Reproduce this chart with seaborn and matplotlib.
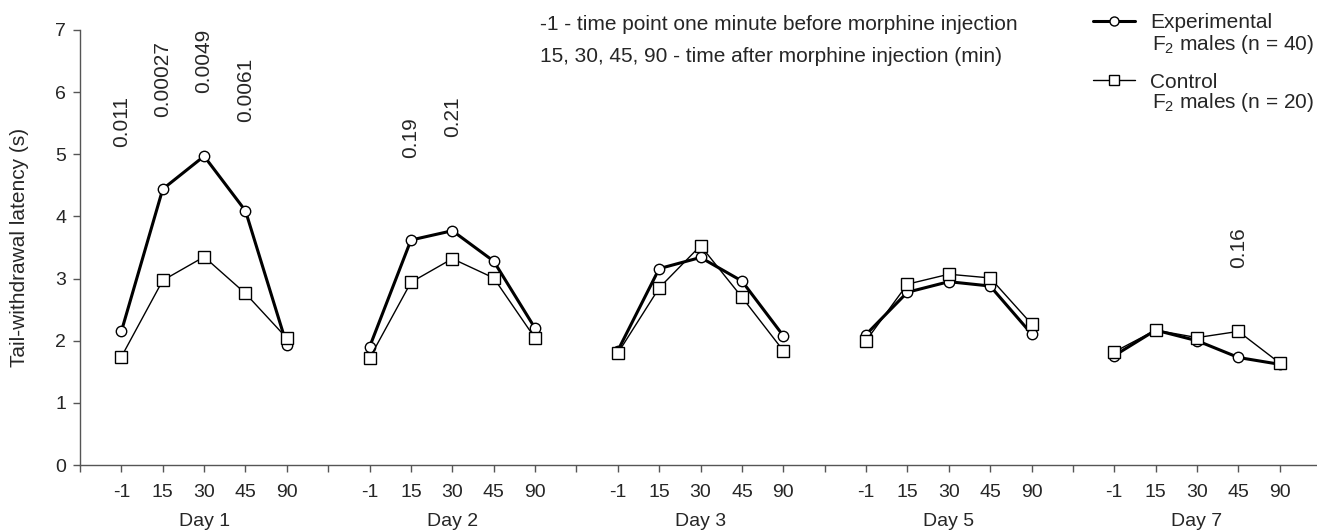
import matplotlib
matplotlib.use("Agg")
import matplotlib.pyplot as plt
import matplotlib.transforms as mtransforms
from matplotlib.lines import Line2D
import seaborn as sns
import pandas as pd

sns.set_theme(style="ticks")
plt.rcParams["font.family"] = ["Liberation Sans", "DejaVu Sans"]
plt.rcParams["mathtext.default"] = "regular"

days = ["Day 1", "Day 2", "Day 3", "Day 5", "Day 7"]
times = ["-1", "15", "30", "45", "90"]

experimental = [
    [2.15, 4.44, 4.97, 4.09, 1.93],
    [1.90, 3.62, 3.77, 3.28, 2.20],
    [1.84, 3.16, 3.34, 2.96, 2.08],
    [2.10, 2.78, 2.95, 2.88, 2.11],
    [1.76, 2.17, 2.00, 1.73, 1.62],
]
control = [
    [1.74, 2.97, 3.35, 2.76, 2.04],
    [1.72, 2.94, 3.32, 3.01, 2.04],
    [1.80, 2.85, 3.53, 2.70, 1.84],
    [2.00, 2.91, 3.07, 3.01, 2.27],
    [1.82, 2.17, 2.05, 2.15, 1.64],
]

# p-values: (day index, time index, label, baseline height)
p_day = [0, 0, 0, 0, 1, 1, 4]
p_time = [0, 1, 2, 3, 1, 2, 3]
p_text = ["0.011", "0.00027", "0.0049", "0.0061", "0.19", "0.21", "0.16"]
p_y = [5.12, 5.60, 5.99, 5.52, 4.94, 5.28, 3.17]

leg_exp = "Experimental"
leg_exp2 = "F$_2$ males (n = 40)"
leg_ctl = "Control"
leg_ctl2 = "F$_2$ males (n = 20)"
note1 = "-1 - time point one minute before morphine injection"
note2 = "15, 30, 45, 90 - time after morphine injection (min)"
ylabel = "Tail-withdrawal latency (s)"

slot = 6  # 5 time points + 1 gap slot per day
FS = 14
FS_NOTE = 15


def pos(d, t):
    return 1 + slot * d + t


rows = []
for d, day in enumerate(days):
    for t, tm in enumerate(times):
        rows.append(dict(day=day, time=tm, pos=pos(d, t), group="Experimental", value=experimental[d][t]))
        rows.append(dict(day=day, time=tm, pos=pos(d, t), group="Control", value=control[d][t]))
df = pd.DataFrame(rows)

W, H = 1317, 531
fig = plt.figure(figsize=(W / 100, H / 100), dpi=100)
ax = fig.add_axes([80 / W, 1 - 465 / H, 1 - 80 / W, (465 - 30) / H])

styles = {
    "Experimental": dict(marker="o", lw=2.2, ms=7.5, zorder=3),
    "Control": dict(marker="s", lw=1.0, ms=8, zorder=4),
}
for g in ["Experimental", "Control"]:
    st = styles[g]
    for day in days:
        sub = df[(df.group == g) & (df.day == day)]
        sns.lineplot(data=sub, x="pos", y="value", ax=ax, color="black",
                     marker=st["marker"], markersize=st["ms"], linewidth=st["lw"],
                     markerfacecolor="white", markeredgecolor="black",
                     markeredgewidth=1.0, zorder=st["zorder"], legend=False,
                     estimator=None, sort=False)

n_slots = slot * len(days)
ax.set_xlim(0, n_slots - 0.1)
ax.set_ylim(0, 7)
ax.set_yticks(range(0, 8))
ticks = list(range(0, n_slots))
labels = []
for k in ticks:
    if k % slot == 0:
        labels.append("")
    else:
        labels.append(times[(k % slot) - 1])
ax.set_xticks(ticks)
ax.set_xticklabels(labels)
ax.tick_params(axis="both", labelsize=FS, length=5, width=1, color="#555555", pad=5)
ax.tick_params(axis="x", pad=9)
for s in ["top", "right"]:
    ax.spines[s].set_visible(False)
for s in ["left", "bottom"]:
    ax.spines[s].set_color("#555555")
    ax.spines[s].set_linewidth(1.0)
ax.set_xlabel("")
ax.set_ylabel(ylabel, fontsize=15, labelpad=19)

trans = mtransforms.blended_transform_factory(ax.transData, fig.transFigure)
for d, day in enumerate(days):
    ax.text(pos(d, 2), 1 - 521 / H, day, transform=trans, ha="center", va="center", fontsize=FS)

for d, t, s, y in zip(p_day, p_time, p_text, p_y):
    ax.text(pos(d, t), y, s, rotation=90, ha="center", va="bottom", fontsize=FS_NOTE)

fig.text(540 / W, 1 - 25 / H, note1, fontsize=FS_NOTE, ha="left", va="center")
fig.text(540 / W, 1 - 57 / H, note2, fontsize=FS_NOTE, ha="left", va="center")

h_exp = Line2D([], [], color="black", lw=2.2, marker="o", ms=6.5, mfc="white", mec="black", mew=1)
h_ctl = Line2D([], [], color="black", lw=1.0, marker="s", ms=6.5, mfc="white", mec="black", mew=1)
leg = fig.legend([h_exp, h_ctl], [leg_exp, leg_ctl],
                 loc="upper left", bbox_to_anchor=(1093 / W, 1 - 13 / H), frameon=False,
                 fontsize=FS_NOTE, handlelength=2.0, handletextpad=0.75, labelspacing=1.95,
                 borderpad=0, borderaxespad=0)
fig.text(1152 / W, 1 - 45 / H, leg_exp2, fontsize=FS_NOTE, ha="left", va="center")
fig.text(1152 / W, 1 - 103 / H, leg_ctl2, fontsize=FS_NOTE, ha="left", va="center")

fig.savefig("out.png", dpi=100)
